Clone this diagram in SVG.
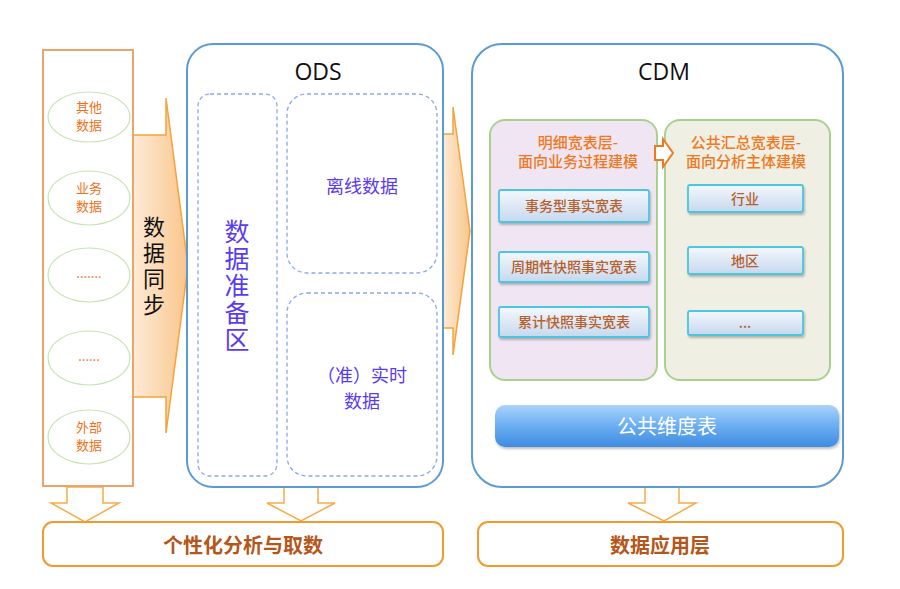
<svg xmlns="http://www.w3.org/2000/svg" width="900" height="589" viewBox="0 0 900 589">
<defs>
<linearGradient id="gSync" x1="0" y1="0" x2="1" y2="0">
<stop offset="0" stop-color="#FDEBD6"/><stop offset="1" stop-color="#F9C58A"/>
</linearGradient>
<linearGradient id="gItem" x1="0" y1="0" x2="0" y2="1">
<stop offset="0" stop-color="#F4F8FD"/><stop offset="1" stop-color="#C6D8EE"/>
</linearGradient>
<linearGradient id="gDim" x1="0" y1="0" x2="0" y2="1">
<stop offset="0" stop-color="#A9D3FB"/><stop offset="0.5" stop-color="#6AAEF2"/><stop offset="1" stop-color="#3F8BE0"/>
</linearGradient>
<filter id="sh" x="-10%" y="-20%" width="120%" height="150%">
<feDropShadow dx="1" dy="2" stdDeviation="1.2" flood-color="#000" flood-opacity="0.25"/>
</filter>
</defs>
<style>
.cn{font-family:"Noto Sans CJK SC","Noto Sans",sans-serif;}
.src{fill:#F07020;font-size:13px;text-anchor:middle;}
.ell{fill:#fff;stroke:#C9E4B4;stroke-width:1.2;}
.big{fill:#fff;stroke:#5B9BD5;stroke-width:2;}
.dash{fill:none;stroke:#8CA6EE;stroke-width:1.3;stroke-dasharray:4 3;}
.purp{fill:#5A3CF0;text-anchor:middle;}
.vert{writing-mode:vertical-rl;text-anchor:middle;}
.ttl{font-family:"Open Sans","Liberation Sans",sans-serif;font-size:23px;fill:#111;text-anchor:middle;}
.panel{stroke:#A9D18E;stroke-width:2;}
.ptxt{fill:#F07820;font-size:15px;font-weight:500;text-anchor:middle;}
.item{fill:url(#gItem);stroke:#4CC6E0;stroke-width:1.8;filter:url(#sh);}
.itxt{fill:#B8602A;font-size:14px;font-weight:500;text-anchor:middle;}
.darr{fill:#fff;stroke:#F6AA48;stroke-width:1.5;}
.bbox{fill:#fff;stroke:#F29A2E;stroke-width:2;}
.btxt{fill:#B5561A;font-size:20px;font-weight:bold;text-anchor:middle;}
</style>
<g id="connectors">
<path id="sync-arrow" d="M133,135 H166 V98 L188,266 L166,433 V397 H133 Z" fill="url(#gSync)" stroke="#F5A33A" stroke-width="1.5"/>
<text class="cn vert" x="154" y="268" font-size="22" fill="#111" letter-spacing="4">数据同步</text>
<path id="ods-cdm-arrow" d="M443,134 H453 V107 L470,231 L453,355 V328 H443 Z" fill="url(#gSync)" stroke="#F5A33A" stroke-width="1.5"/>
<path class="darr" d="M67,487 H103 V503 H119 L85,522 L51,503 H67 Z"/>
<path class="darr" d="M284,487 H318 V503 H335 L301,521 L267,503 H284 Z"/>
<path class="darr" d="M645,487 H679 V503 H696 L664,521 L628,503 H645 Z"/>
</g>
<g id="sources">
<rect x="43" y="50" width="90" height="436" fill="#fff" stroke="#E8A66A" stroke-width="2"/>
<g id="src1"><ellipse class="ell" cx="89" cy="117" rx="41" ry="25"/><text class="cn src"><tspan x="89" y="112">其他</tspan><tspan x="89" y="130">数据</tspan></text></g>
<g id="src2"><ellipse class="ell" cx="89" cy="198" rx="41" ry="27"/><text class="cn src"><tspan x="89" y="193">业务</tspan><tspan x="89" y="211">数据</tspan></text></g>
<g id="src3"><ellipse class="ell" cx="89" cy="275" rx="41" ry="27"/><text class="cn src" x="89" y="278" font-size="10">.......</text></g>
<g id="src4"><ellipse class="ell" cx="89" cy="358" rx="41" ry="27"/><text class="cn src" x="89" y="361" font-size="10">......</text></g>
<g id="src5"><ellipse class="ell" cx="89" cy="437" rx="41" ry="27"/><text class="cn src"><tspan x="89" y="432">外部</tspan><tspan x="89" y="450">数据</tspan></text></g>
</g>
<g id="ods">
<rect class="big" x="187" y="44" width="256" height="443" rx="26"/>
<text class="ttl" x="318" y="80">ODS</text>
<g id="prep"><rect class="dash" x="198" y="94" width="79" height="382" rx="12"/>
<text class="cn purp vert" x="237" y="286" font-size="25" letter-spacing="2">数据准备区</text></g>
<g id="offline"><rect class="dash" x="287" y="94" width="150" height="179" rx="20"/>
<text class="cn purp" font-size="18" x="362" y="193">离线数据</text></g>
<g id="realtime"><rect class="dash" x="287" y="293" width="150" height="183" rx="20"/>
<text class="cn purp" font-size="18"><tspan x="362" y="382">（准）实时</tspan><tspan x="362" y="408">数据</tspan></text></g>
</g>
<g id="cdm">
<rect class="big" x="472" y="44" width="371" height="443" rx="30"/>
<text class="ttl" x="664" y="80">CDM</text>
<g id="detail">
<rect class="panel" x="490" y="120" width="167" height="260" rx="15" fill="#F0E6F3"/>
<text class="cn ptxt"><tspan x="578" y="148">明细宽表层-</tspan><tspan x="578" y="167">面向业务过程建模</tspan></text>
<g id="fact1"><rect class="item" x="499" y="190" width="150" height="32" rx="2"/><text class="cn itxt" x="574" y="211">事务型事实宽表</text></g>
<g id="fact2"><rect class="item" x="499" y="252" width="150" height="30" rx="2"/><text class="cn itxt" x="574" y="272">周期性快照事实宽表</text></g>
<g id="fact3"><rect class="item" x="499" y="307" width="150" height="30" rx="2"/><text class="cn itxt" x="574" y="327">累计快照事实宽表</text></g>
</g>
<g id="summary">
<rect class="panel" x="665" y="120" width="165" height="260" rx="15" fill="#EFEFE3"/>
<text class="cn ptxt"><tspan x="746" y="148">公共汇总宽表层-</tspan><tspan x="746" y="167">面向分析主体建模</tspan></text>
<g id="sum1"><rect class="item" x="688" y="185" width="115" height="27" rx="2"/><text class="cn itxt" x="745" y="204">行业</text></g>
<g id="sum2"><rect class="item" x="688" y="247" width="115" height="27" rx="2"/><text class="cn itxt" x="745" y="266">地区</text></g>
<g id="sum3"><rect class="item" x="688" y="311" width="115" height="24" rx="2"/><text class="cn itxt" x="745" y="328">...</text></g>
</g>
<path id="panel-arrow" d="M655,146 H663 V139 L673,153 L663,167 V160 H655 Z" fill="#fff" stroke="#F07820" stroke-width="2"/>
<g id="dim"><rect x="495" y="405" width="344" height="42" rx="10" fill="url(#gDim)" filter="url(#sh)"/>
<text class="cn" x="667" y="434" font-size="20" fill="#fff" text-anchor="middle">公共维度表</text></g>
</g>
<g id="analysis"><rect class="bbox" x="43" y="522" width="400" height="44" rx="10"/>
<text class="cn btxt" x="243" y="553">个性化分析与取数</text></g>
<g id="app"><rect class="bbox" x="478" y="522" width="365" height="44" rx="10"/>
<text class="cn btxt" x="660" y="553">数据应用层</text></g>
</svg>
